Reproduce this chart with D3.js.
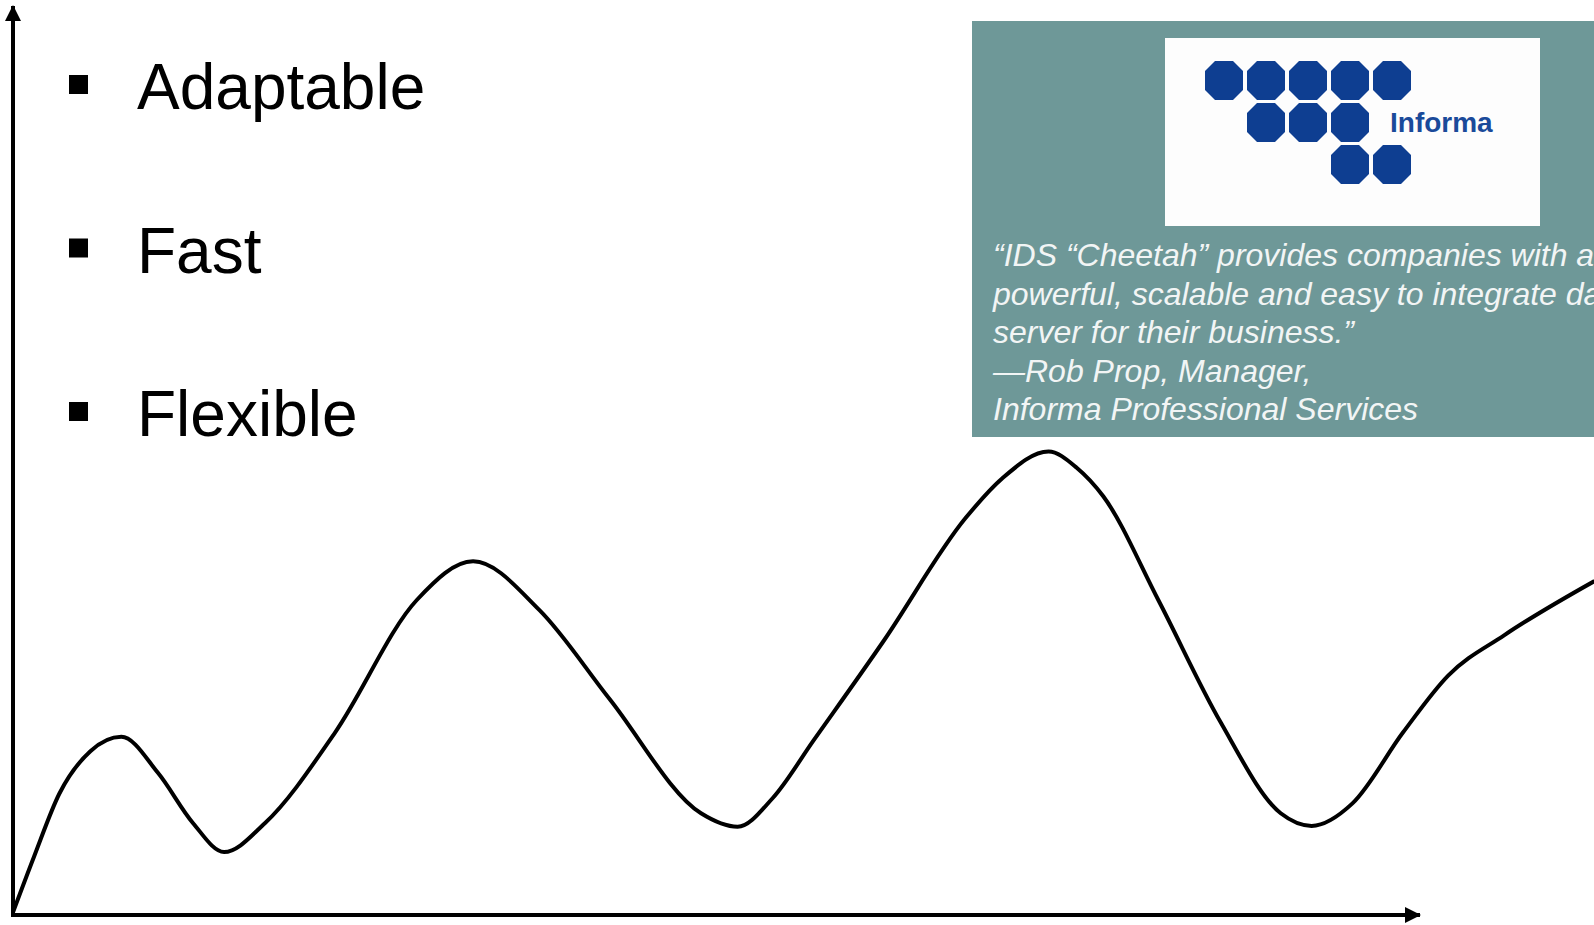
<!DOCTYPE html>
<html>
<head>
    <script src="https://cdnjs.cloudflare.com/ajax/libs/d3/7.8.5/d3.min.js"></script>
    <style>
        body { margin: 0; background: #fff; overflow: hidden; }
        .curve { fill: none; stroke: #000; stroke-width: 4; stroke-linejoin: round; }
        .axis-line { stroke: #000; stroke-width: 4; }
        .bullet-text { font-family: "Liberation Sans", Arial, sans-serif; font-size: 64px; fill: #000; }
        .quote { font-family: "Liberation Sans", Arial, sans-serif; font-style: italic; font-size: 32px; fill: #f2f5f5; }
    </style>
</head>
<body>
    <svg width="1594" height="925"></svg>
    <script>
        // Curve (arbitrary units: x 0..100 along the axis, y 0..100 up the axis)
        const curveX = [0, 1.5, 3.3, 5.5, 7.7, 10.3, 12.8, 15.0, 17.9, 22.9, 28.7, 32.7, 37.4, 42.4, 48.9, 51.5,
                        54.0, 56.9, 61.9, 67.7, 70.3, 73.6, 75.6, 77.5, 81.4, 85.8, 90.1, 92.3, 95.2, 98.8, 102.0, 106.0, 112.4];
        const curveY = [0.3, 6.5, 13.5, 18.2, 19.8, 15.8, 10.2, 7.0, 10.2, 20.3, 35.0, 39.3, 33.9, 24.0, 11.3, 9.8,
                        13.0, 19.4, 30.5, 44.1, 48.5, 51.5, 49.7, 46.5, 35.0, 21.5, 11.3, 9.9, 12.4, 20.3, 26.6, 31.1, 37.1];

        const bullets = ["Adaptable", "Fast", "Flexible"];

        const quoteLines = [
            "\u201CIDS \u201CCheetah\u201D provides companies with a",
            "powerful, scalable and easy to integrate data",
            "server for their business.\u201D",
            "\u2014Rob Prop, Manager,",
            "Informa Professional Services"
        ];

        // logo octagon grid: [row, col]
        const logoCells = [[0,0],[0,1],[0,2],[0,3],[0,4],[1,1],[1,2],[1,3],[2,3],[2,4]];
        const logoName = "Informa";

        const data = curveX.map((x, i) => ({ x: x, y: curveY[i] }));

        const svg = d3.select("svg");

        // scales
        const x = d3.scaleLinear().domain([0, 100]).range([13, 1420]);
        const y = d3.scaleLinear().domain([0, 100]).range([915, 15]);

        // bullet list
        const bulletY = d3.scalePoint().domain(bullets).range([109, 436]);
        const items = svg.selectAll(".item")
            .data(bullets)
            .enter()
            .append("g")
            .attr("class", "item");
        items.append("rect")
            .attr("x", 69)
            .attr("y", d => bulletY(d) - 34)
            .attr("width", 19)
            .attr("height", 19)
            .attr("fill", "#000");
        items.append("text")
            .attr("class", "bullet-text")
            .attr("x", 137)
            .attr("y", d => bulletY(d))
            .text(d => d);

        // quote panel
        const panel = svg.append("g");
        panel.append("rect")
            .attr("x", 972)
            .attr("y", 21)
            .attr("width", 700)
            .attr("height", 416)
            .attr("fill", "#6e9898");
        panel.append("rect")
            .attr("x", 1165)
            .attr("y", 38)
            .attr("width", 375)
            .attr("height", 188)
            .attr("fill", "#fdfdfd");

        // octagons
        const octW = 38, octH = 39, cut = 10;
        const octagon = (cx, cy) => {
            const w = octW / 2, h = octH / 2;
            return [[cx - w + cut, cy - h], [cx + w - cut, cy - h], [cx + w, cy - h + cut], [cx + w, cy + h - cut],
                    [cx + w - cut, cy + h], [cx - w + cut, cy + h], [cx - w, cy + h - cut], [cx - w, cy - h + cut]];
        };
        const colX = d3.scaleLinear().domain([0, 1]).range([1224, 1266]);
        const rowY = d3.scaleLinear().domain([0, 1]).range([80.5, 122.5]);
        panel.selectAll(".oct")
            .data(logoCells)
            .enter()
            .append("polygon")
            .attr("class", "oct")
            .attr("points", d => octagon(colX(d[1]), rowY(d[0])).join(" "))
            .attr("fill", "#0e3e91");
        panel.append("text")
            .attr("x", 1390)
            .attr("y", 132)
            .attr("font-family", "'Liberation Sans', Arial, sans-serif")
            .attr("font-size", 28)
            .attr("font-weight", "bold")
            .attr("fill", "#1a4a9a")
            .text(logoName);

        panel.selectAll(".quote")
            .data(quoteLines)
            .enter()
            .append("text")
            .attr("class", "quote")
            .attr("x", 993)
            .attr("y", (d, i) => 266 + i * 38.5)
            .text(d => d);

        // axes with arrowheads
        const defs = svg.append("defs");
        defs.append("marker")
            .attr("id", "arrow")
            .attr("viewBox", "0 0 16 16")
            .attr("refX", 15)
            .attr("refY", 8)
            .attr("markerWidth", 16)
            .attr("markerHeight", 16)
            .attr("markerUnits", "userSpaceOnUse")
            .attr("orient", "auto")
            .append("path")
            .attr("d", "M0,0 L16,8 L0,16 Z")
            .attr("fill", "#000");

        svg.append("line")
            .attr("class", "axis-line")
            .attr("x1", x(0)).attr("y1", y(0))
            .attr("x2", x(0)).attr("y2", y(100) - 9)
            .attr("marker-end", "url(#arrow)");
        svg.append("line")
            .attr("class", "axis-line")
            .attr("x1", x(0) - 2).attr("y1", y(0))
            .attr("x2", x(100)).attr("y2", y(0))
            .attr("marker-end", "url(#arrow)");

        // the curve
        const line = d3.line()
            .x(d => x(d.x))
            .y(d => y(d.y))
            .curve(d3.curveMonotoneX);

        svg.append("path")
            .datum(data)
            .attr("class", "curve")
            .attr("d", line);
    </script>
</body>
</html>
